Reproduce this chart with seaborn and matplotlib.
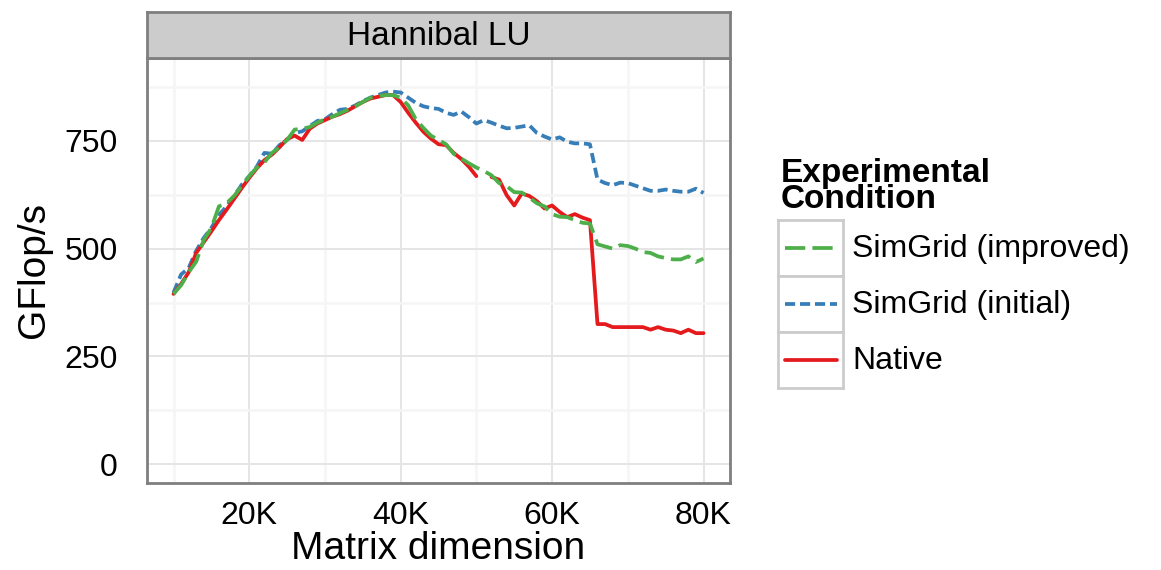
import numpy as np
import pandas as pd
import matplotlib
matplotlib.use("Agg")
import matplotlib.pyplot as plt
from matplotlib.lines import Line2D
from matplotlib.ticker import FuncFormatter, FixedLocator
import seaborn as sns

# Matrix sizes (one run every 1000 rows)
dims = list(range(10000, 80001, 1000))

native = [
    395, 418, 445, 490, 515, 540, 566, 590, 615, 640,
    664, 686, 705, 718, 735, 754, 762, 752, 778, 790,
    798, 806, 812, 820, 830, 840, 848, 852, 856, 856,
    840, 815, 792, 771, 755, 742, 740, 722, 708, 690,
    668, np.nan, 666, 660, 624, 600, 628, 622, 610, 593,
    600, 585, 573, 580, 572, 566, 325, 325, 318, 318,
    318, 318, 318, 312, 318, 312, 310, 304, 312, 304,
    304,
]

sim_initial = [
    398, 440, 455, 495, 525, 548, 578, 598, 622, 648,
    668, 690, 722, 720, 740, 752, 768, 772, 784, 796,
    800, 812, 822, 824, 832, 842, 850, 856, 862, 864,
    862, 850, 838, 830, 826, 824, 815, 810, 818, 805,
    790, 798, 792, 785, 779, 780, 783, 786, 768, 760,
    753, 758, 748, 744, 744, 742, 660, 652, 647, 653,
    652, 646, 640, 634, 634, 637, 634, 632, 632, 639,
    629,
]

sim_improved = [
    395, 415, 445, 470, 520, 548, 598, 605, 622, 645,
    668, 688, 700, 722, 735, 752, 776, 778, 782, 792,
    800, 806, 814, 822, 830, 840, 850, 854, 856, 856,
    850, 832, 800, 780, 762, 752, 742, 720, 709, 698,
    688, 680, 670, 652, 645, 631, 630, 618, 605, 598,
    580, 574, 573, 566, 560, 558, 510, 505, 500, 508,
    506, 500, 492, 490, 482, 478, 475, 475, 482, 469,
    477,
]

conditions = ["SimGrid (improved)", "SimGrid (initial)", "Native"]
palette = {"SimGrid (improved)": "#4DAF4A",
           "SimGrid (initial)": "#377EB8",
           "Native": "#E41A1C"}
dash_styles = {"SimGrid (improved)": (0, (5.4, 1.9)),
               "SimGrid (initial)": (0, (2.7, 1.3)),
               "Native": "-"}


def to_frame(name, values):
    df = pd.DataFrame({"dim": dims, "gflops": values})
    # missing runs break the line into separate segments
    df["seg"] = df["gflops"].isna().cumsum()
    df["condition"] = name
    return df.dropna()


data = pd.concat([to_frame("SimGrid (improved)", sim_improved),
                  to_frame("SimGrid (initial)", sim_initial),
                  to_frame("Native", native)], ignore_index=True)

sns.set_style("white")
plt.rcParams["font.family"] = ["Liberation Sans", "DejaVu Sans"]
plt.rcParams["text.color"] = "black"
plt.rcParams["axes.labelcolor"] = "black"

W, H = 1161, 570
fig = plt.figure(figsize=(W / 100, H / 100), dpi=100)


def fx(px):
    return px / W


def fy(px):
    return 1 - px / H


panel_l, panel_r, panel_t, panel_b = 147, 730, 58, 483
strip_t = 12
ax = fig.add_axes([fx(panel_l), fy(panel_b), fx(panel_r - panel_l), (panel_b - panel_t) / H])

lw = 2.7
for name in ["SimGrid (initial)", "Native", "SimGrid (improved)"]:
    sub = data[data["condition"] == name]
    sns.lineplot(data=sub, x="dim", y="gflops", units="seg", estimator=None,
                 sort=False, color=palette[name], linewidth=lw,
                 linestyle=dash_styles[name], dash_capstyle="butt",
                 ax=ax, legend=False, zorder=3)

ax.set_xlim(6500, 83500)
ax.set_ylim(-43.5, 942)
ax.xaxis.set_major_locator(FixedLocator([20000, 40000, 60000, 80000]))
ax.xaxis.set_minor_locator(FixedLocator([10000, 30000, 50000, 70000]))
ax.yaxis.set_major_locator(FixedLocator([0, 250, 500, 750]))
ax.yaxis.set_minor_locator(FixedLocator([125, 375, 625, 875]))
ax.xaxis.set_major_formatter(FuncFormatter(lambda v, _: f"{int(round(v / 1000))}K"))
ax.grid(which="major", color="#e5e5e5", linewidth=1.4, zorder=0)
ax.grid(which="minor", color="#f5f5f5", linewidth=1.8, zorder=0)
ax.set_axisbelow(True)
ax.tick_params(which="major", length=10, width=2, color="#333333",
               labelsize=23, labelcolor="black")
ax.tick_params(axis="x", pad=3)
ax.tick_params(axis="y", pad=11)
ax.tick_params(which="minor", length=0)
for sp in ax.spines.values():
    sp.set_color("#7f7f7f")
    sp.set_linewidth(2.0)
    sp.set_visible(True)
    sp.set_zorder(5)

ax.set_xlabel("Matrix dimension", fontsize=28, labelpad=0)
ax.set_ylabel("GFlop/s", fontsize=28, labelpad=9)

# facet strip
strip = fig.add_axes([fx(panel_l), fy(panel_t), fx(panel_r - panel_l), (panel_t - strip_t) / H])
strip.set_facecolor("#cccccc")
strip.set_xticks([])
strip.set_yticks([])
for sp in strip.spines.values():
    sp.set_color("#7f7f7f")
    sp.set_linewidth(2.0)
strip.text(0.5, 0.47, "Hannibal LU", ha="center", va="center", fontsize=24,
           transform=strip.transAxes)

# legend
fig.text(fx(781), fy(208), "Experimental\nCondition", fontsize=24, fontweight="bold",
         ha="left", va="baseline", linespacing=0.8)
key_top, key_h, key_l, key_w = 220, 56, 778, 65
for i, name in enumerate(conditions):
    top = key_top + i * key_h
    kax = fig.add_axes([fx(key_l), fy(top + key_h), fx(key_w), key_h / H])
    kax.set_xlim(0, 1)
    kax.set_ylim(0, 1)
    kax.set_xticks([])
    kax.set_yticks([])
    kax.set_facecolor("white")
    for sp in kax.spines.values():
        sp.set_color("#cccccc")
        sp.set_linewidth(2.0)
    kax.add_line(Line2D([0.1, 0.9], [0.5, 0.5], color=palette[name], linewidth=lw,
                        linestyle=dash_styles[name], dash_capstyle="butt"))
    fig.text(fx(852), fy(top + key_h / 2 + 1), name, fontsize=23, ha="left", va="center")

fig.savefig("out.png", dpi=100, facecolor="white")
